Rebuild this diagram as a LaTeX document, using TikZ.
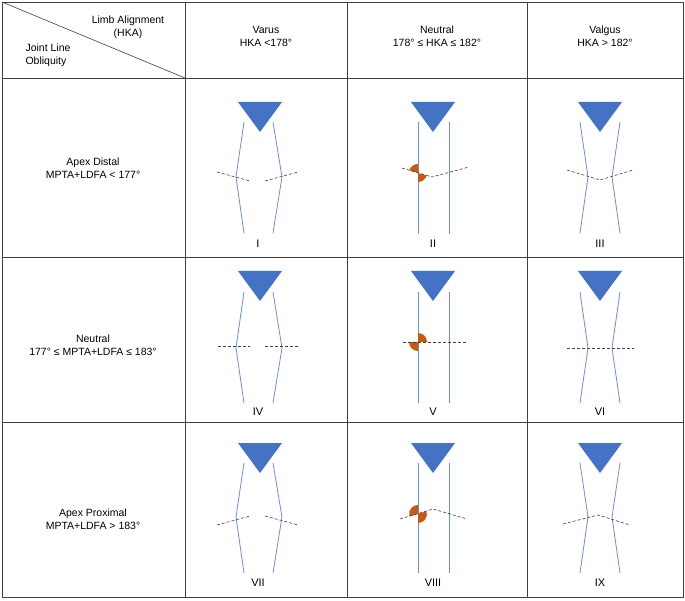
\documentclass[tikz,border=0pt]{standalone}
\usepackage{fontspec}
\setmainfont{Liberation Sans}
\definecolor{tri}{HTML}{4472C4}
\definecolor{bone}{HTML}{6E8FD6}
\definecolor{ang}{HTML}{C55A11}
\tikzset{grid/.style={draw=black!75,line width=0.8pt},
 bonel/.style={draw=bone,line width=0.8pt},
 jl/.style={draw=black!75,densely dashed,line width=0.6pt},
 txt/.style={font=\fontsize{10.5}{13}\selectfont,align=center},
 lab/.style={font=\fontsize{11}{13}\selectfont}}
\newcommand\trimark[2]{\fill[tri] (#1-22,#2)--(#1+22,#2)--(#1,#2+30)--cycle;}
\newcommand\varuslegs[4]{\draw[bonel] (#1-16,#2)--(#1-24,#3)--(#1-16,#4);
 \draw[bonel] (#1+13,#2)--(#1+22,#3)--(#1+13,#4);}
\newcommand\valguslegs[4]{\draw[bonel] (#1-20,#2)--(#1-12,#3)--(#1-20,#4);
 \draw[bonel] (#1+20,#2)--(#1+12,#3)--(#1+20,#4);}
\newcommand\neutlegs[4]{\draw[bonel] (#1-15,#2)--(#1-15,#4); \draw[bonel] (#1+16,#2)--(#1+16,#4);}
\newcommand\sect[4]{\fill[ang] (#1) -- ++(#2:9) arc[start angle=#2,end angle=#3,radius=9] -- cycle;}
\begin{document}
\begin{tikzpicture}[x=1pt,y=-1pt]
\useasboundingbox (0,0) rectangle (685,601);
\fill[white] (0,0) rectangle (685,601);
% grid
\draw[grid] (2,2) rectangle (683,597);
\foreach \x in {185,347,527} \draw[grid] (\x,2)--(\x,597);
\foreach \y in {78,257,422} \draw[grid] (2,\y)--(683,\y);
\draw[grid,line width=0.6pt] (2,2)--(185,78);
% header
\node[txt] (hka) at (128,27) {Limb Alignment\\(HKA)};
\node[txt,align=left,anchor=west] (jlo) at (22,55) {Joint Line\\Obliquity};
\node[txt] (hvar) at (266,36) {Varus\\HKA <178°};
\node[txt] (hneu) at (437,36) {Neutral\\178° ≤ HKA ≤ 182°};
\node[txt] (hval) at (605,36) {Valgus\\HKA > 182°};
\node[txt] (r1) at (93,168) {Apex Distal\\MPTA+LDFA < 177°};
\node[txt] (r2) at (93,345) {Neutral\\177° ≤ MPTA+LDFA ≤ 183°};
\node[txt] (r3) at (93,519) {Apex Proximal\\MPTA+LDFA > 183°};
% row 1
\trimark{260}{102}\varuslegs{260}{122}{177}{233}
\draw[jl] (217,172)--(250,181); \draw[jl] (265,181)--(298,172);
\node[lab] (l1) at (258,244) {I};
\trimark{433}{102}\neutlegs{433}{122}{175}{234}
\coordinate (k2) at (418,173);
\sect{k2}{197}{270}{}\sect{k2}{17}{90}{}
\draw[jl] (402,168)--(432,177)--(469,167);
\node[lab] (l2) at (433,244) {II};
\trimark{600}{102}\valguslegs{600}{122}{177}{233}
\draw[jl] (567,170)--(600,180)--(633,170);
\node[lab] (l3) at (600,244) {III};
% row 2
\trimark{260}{271}\varuslegs{260}{292}{348}{403}
\draw[jl] (218,346)--(250,346); \draw[jl] (265,346)--(298,346);
\node[lab] (l4) at (258,412) {IV};
\trimark{433}{271}\neutlegs{433}{292}{342}{403}
\coordinate (k5) at (418,342);
\sect{k5}{270}{360}{}\sect{k5}{90}{180}{}
\draw[jl] (403,342)--(468,342);
\node[lab] (l5) at (433,412) {V};
\trimark{600}{271}\valguslegs{600}{292}{348}{403}
\draw[jl] (567,348)--(634,348);
\node[lab] (l6) at (600,412) {VI};
% row 3
\trimark{260}{443}\varuslegs{260}{463}{517}{573}
\draw[jl] (217,525)--(250,516); \draw[jl] (265,516)--(298,525);
\node[lab] (l7) at (258,583) {VII};
\trimark{433}{443}\neutlegs{433}{463}{517}{573}
\coordinate (k8) at (418,514);
\sect{k8}{164}{270}{}\sect{k8}{-18}{90}{}
\draw[jl] (400,519)--(433,509)--(467,519);
\node[lab] (l8) at (433,583) {VIII};
\trimark{600}{443}\valguslegs{600}{463}{517}{573}
\draw[jl] (563,524)--(598,515)--(630,525);
\node[lab] (l9) at (600,583) {IX};
\end{tikzpicture}
\end{document}
